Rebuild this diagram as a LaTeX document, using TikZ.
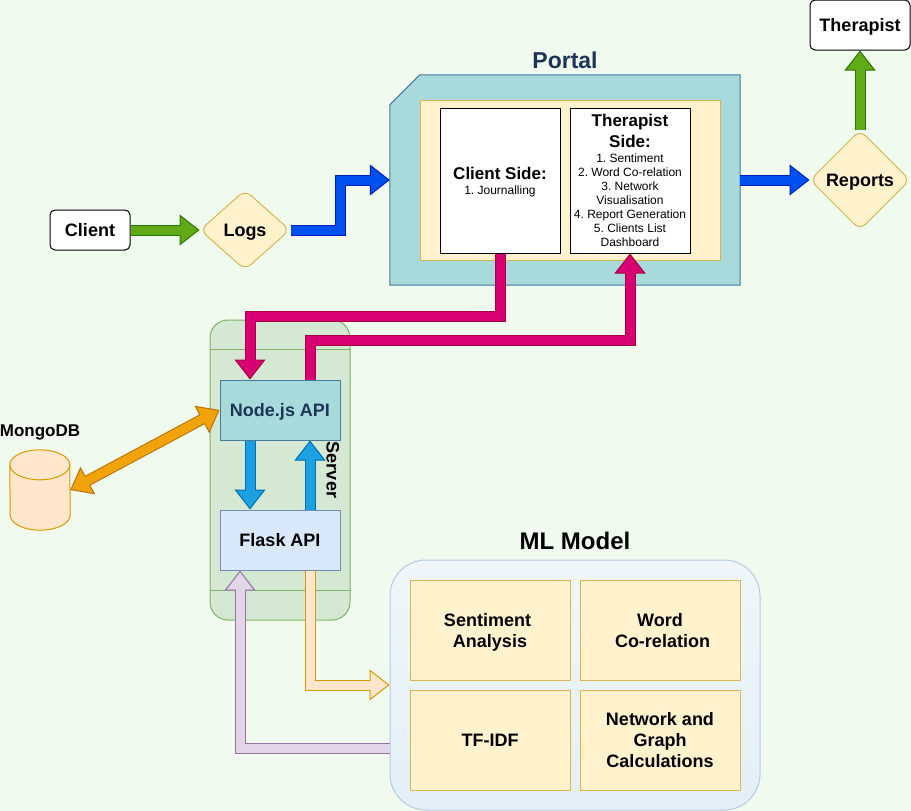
\documentclass[tikz,border=0pt]{standalone}
\usepackage{fontspec}
\setmainfont{Liberation Sans}
\usetikzlibrary{calc,shapes.geometric,arrows.meta}
\definecolor{page_bg}{HTML}{F1FAEE}
\definecolor{teal_fill}{HTML}{A8DADC}
\definecolor{teal_line}{HTML}{457B9D}
\definecolor{navy_text}{HTML}{1D3557}
\definecolor{note_fill}{HTML}{FFF2CC}
\definecolor{note_line}{HTML}{D6B656}
\definecolor{leaf_fill}{HTML}{D5E8D4}
\definecolor{leaf_line}{HTML}{82B366}
\definecolor{sky_fill}{HTML}{DAE8FC}
\definecolor{sky_line}{HTML}{6C8EBF}
\definecolor{peach_fill}{HTML}{FFE6CC}
\definecolor{peach_line}{HTML}{D79B00}
\definecolor{lilac_fill}{HTML}{E1D5E7}
\definecolor{lilac_line}{HTML}{9673A6}
\definecolor{green_fill}{HTML}{60A917}
\definecolor{green_line}{HTML}{2D7600}
\definecolor{blue_fill}{HTML}{0050EF}
\definecolor{blue_line}{HTML}{001DBC}
\definecolor{pink_fill}{HTML}{D80073}
\definecolor{pink_line}{HTML}{A50040}
\definecolor{cyan_fill}{HTML}{1BA1E2}
\definecolor{cyan_line}{HTML}{006EAF}
\definecolor{amber_fill}{HTML}{F0A30A}
\definecolor{amber_line}{HTML}{BD7000}
\definecolor{ml_top}{HTML}{F0F7FA}
\definecolor{ml_bottom}{HTML}{E3EFF5}
\definecolor{ml_line}{HTML}{B5CBE3}

\begin{document}
\frenchspacing
\begin{tikzpicture}[x=1pt,y=-1pt]
        \tikzstyle{bold_text} = [font=\fontsize{18}{21}\selectfont\bfseries, align=center, inner sep=0pt, text depth=0pt]
        \tikzstyle{actor} = [bold_text, rectangle, rounded corners=5pt, minimum height=40pt, draw=black, fill=white, line width=1pt]
        \tikzstyle{decision} = [bold_text, diamond, rounded corners=8pt, draw=note_line, fill=note_fill, line width=1pt]
        \tikzstyle{side} = [rectangle, minimum width=120pt, minimum height=145pt, draw=black, fill=white, line width=1pt, align=center, inner sep=0pt, text depth=0pt, font=\fontsize{12}{14}\selectfont]
        \tikzstyle{model} = [bold_text, rectangle, minimum width=160pt, minimum height=100pt, draw=note_line, fill=note_fill, line width=1pt]
        \tikzstyle{api} = [bold_text, rectangle, minimum width=120pt, minimum height=60pt, line width=1pt]
        \tikzstyle{store} = [draw=peach_line, fill=peach_fill, line width=1pt]
        \tikzset{inner_shorten/.style={},
                flex_arrow/.style 2 args={line width=11pt, draw=#2, >={Triangle[length=20pt,width=31pt,line width=1pt,fill=#1,color=#2]},
                        postaction={draw=#1,line width=9pt,-,shorten >=18pt,inner_shorten}}}
        \fill[page_bg] (0,0) rectangle (911,811);
        \useasboundingbox (0,0) rectangle (911,811);
        \node (portal) [rectangle, minimum width=350pt, minimum height=210pt, inner sep=0pt] at (565,180) {};
        \draw[draw=teal_line, fill=teal_fill, line width=1pt] (portal.south west) -- ($(portal.north west)+(0,30)$) -- ($(portal.north west)+(30,0)$) -- (portal.north east) -- (portal.south east) -- cycle;
        \node (portal_title) [bold_text, font=\fontsize{23}{28}\selectfont\bfseries, text=navy_text, above of=portal, node distance=120pt] {Portal};
        \node (portal_inner) [rectangle, minimum width=300pt, minimum height=160pt, draw=note_line, fill=note_fill, line width=1pt, right of=portal, node distance=5pt] {};
        \node (client_side) [side, left of=portal_inner, node distance=70pt, yshift=-0.5pt] {{\fontsize{17}{20}\selectfont\bfseries Client Side:}\\[1pt]1. Journalling};
        \node (therapist_side) [side, right of=portal_inner, node distance=60pt, yshift=-0.5pt] {{\fontsize{17}{20}\selectfont\bfseries Therapist}\\[4pt]{\fontsize{17}{20}\selectfont\bfseries Side:}\\[1pt]1. Sentiment\\2. Word Co-relation\\3. Network\\Visualisation\\4. Report Generation\\5. Clients List\\Dashboard};
        \node (client) [actor, minimum width=80pt] at (90,230) {Client};
        \node (logs) [decision, minimum width=90pt, minimum height=80pt, shape aspect=1.1] at (245,230) {Logs};
        \node (reports) [decision, minimum width=100pt, minimum height=100pt, shape aspect=1] at (860,180) {Reports};
        \node (therapist) [actor, minimum width=100pt, minimum height=50pt] at (860,25) {Therapist};
        \node (server) [rectangle, rounded corners=18pt, minimum width=140pt, minimum height=300pt, draw=leaf_line, fill=leaf_fill, line width=1pt] at (280,470) {};
        \draw[leaf_line, line width=1pt] ($(server.north west)+(0,30)$) -- ($(server.north east)+(0,30)$);
        \draw[leaf_line, line width=1pt] ($(server.south west)+(0,-30)$) -- ($(server.south east)+(0,-30)$);
        \node (server_title) [bold_text, rotate=-90] at (333,470) {Server};
        \node (node_api) [api, draw=teal_line, fill=teal_fill, text=navy_text, above of=server, node distance=60pt] {Node.js API};
        \node (flask_api) [api, draw=sky_line, fill=sky_fill, below of=server, node distance=70pt] {Flask API};
        \node (mongodb) [rectangle, minimum width=60pt, minimum height=80pt, inner sep=0pt] at (40,490) {};
        \draw[store] ($(mongodb.north west)+(0,15)$) arc[start angle=180, end angle=0, x radius=30pt, y radius=15pt] -- ($(mongodb.south east)+(0,-15)$) arc[start angle=0, end angle=-180, x radius=30pt, y radius=15pt] -- cycle;
        \draw[store, fill=none] ($(mongodb.north west)+(0,15)$) arc[start angle=180, end angle=360, x radius=30pt, y radius=15pt];
        \node (mongodb_title) [bold_text, font=\fontsize{17}{20}\selectfont\bfseries, above of=mongodb, node distance=59pt] {MongoDB};
        \node (ml_model) [rectangle, rounded corners=36pt, minimum width=370pt, minimum height=250pt, draw=ml_line, top color=ml_top, bottom color=ml_bottom, line width=1pt] at (575,685) {};
        \node (ml_title) [bold_text, font=\fontsize{24}{28}\selectfont\bfseries, above of=ml_model, node distance=144pt] {ML Model};
        \node (sentiment) [model, left of=ml_model, node distance=85pt, yshift=55pt] {Sentiment\hspace*{5pt}\\Analysis};
        \node (word) [model, right of=sentiment, node distance=170pt] {Word\\\hspace*{5pt}Co-relation};
        \node (tf_idf) [model, below of=sentiment, node distance=110pt] {TF-IDF};
        \node (network) [model, below of=word, node distance=110pt] {Network and\\Graph\\Calculations};
        \coordinate (logs_bend) at (340,180);
        \coordinate (pull_bend) at (250,316);
        \coordinate (push_bend) at (310,340);
        \coordinate (to_ml_bend) at (310,685);
        \coordinate (from_ml_bend) at (240,748);
        \draw[flex_arrow={green_fill}{green_line},->] (client.east) -- (logs.west);
        \draw[flex_arrow={blue_fill}{blue_line},->] (logs.east) -| (logs_bend) -- (logs_bend -| portal.west);
        \draw[flex_arrow={blue_fill}{blue_line},->] (portal.east) -- (reports.west);
        \draw[flex_arrow={green_fill}{green_line},->] (reports.north) -- (therapist.south);
        \draw[flex_arrow={pink_fill}{pink_line},->] (client_side.south) |- (pull_bend) -- ($(node_api.north)+(-30,0)$);
        \draw[flex_arrow={pink_fill}{pink_line},->] ($(node_api.north)+(30,0)$) |- (push_bend) -| (therapist_side.south);
        \draw[flex_arrow={cyan_fill}{cyan_line},->] ($(node_api.south)+(-30,0)$) -- ($(flask_api.north)+(-30,0)$);
        \draw[flex_arrow={cyan_fill}{cyan_line},->] ($(flask_api.north)+(30,0)$) -- ($(node_api.south)+(30,0)$);
        \draw[inner_shorten/.style={shorten <=18pt},flex_arrow={amber_fill}{amber_line},<->] (node_api.west) -- (mongodb.east);
        \draw[flex_arrow={peach_fill}{peach_line},->] ($(flask_api.south)+(30,0)$) |- (to_ml_bend) -- (to_ml_bend -| ml_model.west);
        \draw[flex_arrow={lilac_fill}{lilac_line},->] (from_ml_bend -| ml_model.west) -- (from_ml_bend) -- ($(flask_api.south)+(-40,0)$);
    \end{tikzpicture}
\end{document}
